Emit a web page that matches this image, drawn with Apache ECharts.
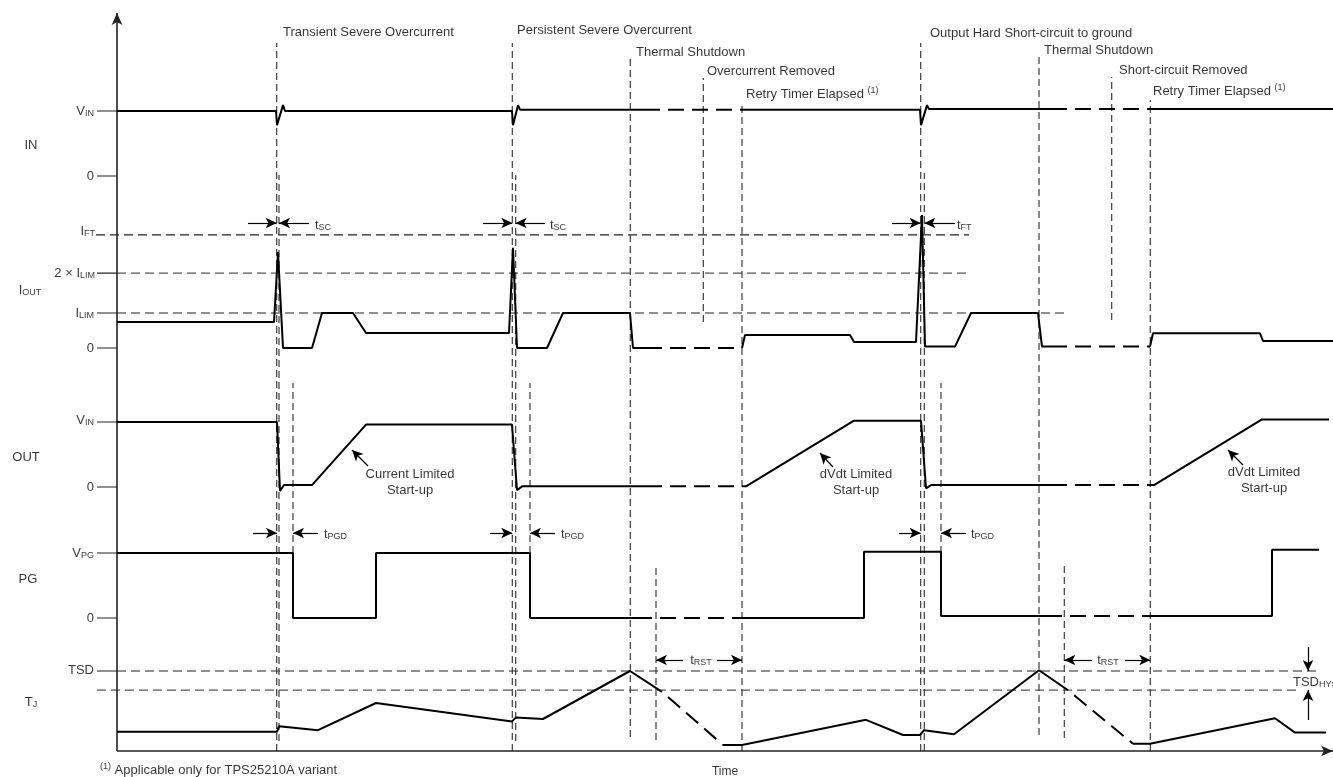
<!DOCTYPE html>
<html>
<head>
<meta charset="utf-8">
<title>TPS25210 fault timing</title>
<style>
  html, body { margin: 0; padding: 0; background: #fff; }
  #chart { width: 1333px; height: 777px; }
</style>
<script src="https://cdn.jsdelivr.net/npm/echarts@6/dist/echarts.min.js"></script>
</head>
<body>
<div id="chart"></div>
<script>
// time in arbitrary units, 0 at the vertical axis
// every waveform is [time, level], level in units of the lane's reference (VIN, ILIM, VPG, TSD)

const inWave = [[0,1],[159,1],[160,0.78],[166,1.09],[168,1],[395,1],[396,0.78],[401,1.09],[403,1.02],
  [803,1.02],[804,0.78],[810,1.09],[812,1.03],[1216,1.03]]
const inIdle = [[543,625],[950,1033]]

const ioutWave = [[0,0.74],[157,0.74],[161,2.74],[166,0],[195,0],[205,1],[236,1],[249,0.43],[392,0.43],
  [396,2.86],[400,0],[430,0],[446,1],[513,1],[516,0],[625,0],[628,0.37],[733,0.37],[737,0.17],[799,0.17],
  [805,3.8],[808,0.04],[838,0.04],[854,1],[921,1],[925,0.04],[1033,0.04],[1036,0.42],[1143,0.42],
  [1146,0.2],[1216,0.2]]
const ioutIdle = [[545,625],[950,1033]]
const ioutRefs = [3.23, 2.14, 1]          // IFT, 2 x ILIM, ILIM
const ioutRefEnd = [852, 852, 951]

const outWave = [[0,1],[160,1],[163,-0.06],[167,0.03],[195,0.03],[249,0.96],[395,0.96],[400,-0.05],
  [405,0.01],[625,0.01],[629,0.01],[737,1.02],[804,1.02],[809,-0.02],[814,0.03],[1037,0.03],
  [1145,1.04],[1212,1.04]]
const outIdle = [[545,625],[950,1033]]

const pgWave = [[0,1],[176,1],[176,0],[259,0],[259,1],[413,1],[413,0],[747,0],[747,1.02],[824,1.02],
  [824,0.03],[1155,0.03],[1155,1.05],[1202,1.05]]
const pgIdle = [[535,625],[945,1033]]

const tjWave = [[0,0.24],[160,0.24],[162,0.31],[201,0.26],[259,0.6],[395,0.37],[399,0.42],[426,0.4],
  [513,1],[545,0.74],[606,0.075],[625,0.075],[749,0.39],[786,0.2],[803,0.2],[807,0.26],[837,0.21],
  [922,1.01],[951,0.76],[1016,0.09],[1033,0.09],[1158,0.41],[1178,0.23],[1209,0.23]]
const tjIdle = [[545,606],[951,1016]]
const tjRefs = [1, 0.76]                   // TSD, TSD - TSDHYS
const tjRefEnd = [1201, 1183]

// event marker times and their vertical reach (chart units, 0 = time axis)
const markerTimes = [159.7, 162, 176, 395.3, 398.7, 413, 513.3, 586.3, 625, 539, 803.7, 807.3, 824, 922, 994.7, 1033.3, 947.3]
const markerTop =   [708, 576, 368, 708, 576, 368, 696, 673, 648, 184, 708, 578, 368, 696, 674, 651, 186]
const markerBot =   [0, 10, 198, 0, 10, 198, 14, 429, 0, 11, 0, 0, 198, 16, 431, 0, 13]

const eventNames = ['Transient Severe Overcurrent', 'Persistent Severe Overcurrent', 'Thermal Shutdown',
  'Overcurrent Removed', 'Retry Timer Elapsed {u|(1)}', 'Output Hard Short-circuit to ground',
  'Thermal Shutdown', 'Short-circuit Removed', 'Retry Timer Elapsed {u|(1)}']

// lane layout: where level 0 sits and how tall one unit is
const lanes = {
  IN:   { zero: 575, unit: 65 },
  IOUT: { zero: 403, unit: 35 },
  OUT:  { zero: 264, unit: 65 },
  PG:   { zero: 133, unit: 65 },
  TJ:   { zero: 0,   unit: 80 }
}
const eventLabelPos = [[166,719],[400,721],[519,699],[590,680],[629,657],[813,718],[927,701],[1002,681],[1036,660]]

const FONT = '"Liberation Sans", Arial, sans-serif'
const INK = '#000'

function toLane(lane, pts) {
  return pts.map(p => [p[0], lane.zero + p[1] * lane.unit])
}

// cut a polyline into solid / dashed pieces at the idle windows
function splitIdle(pts, windows) {
  const cuts = windows.flat()
  const segs = []
  let cur = [pts[0]]
  let ci = 0
  for (let i = 1; i < pts.length; i++) {
    const a = pts[i - 1], b = pts[i]
    while (ci < cuts.length && cuts[ci] > a[0] && cuts[ci] <= b[0]) {
      const t = cuts[ci]
      const y = a[1] + (b[1] - a[1]) * (t - a[0]) / (b[0] - a[0])
      cur.push([t, y])
      segs.push({ dashed: ci % 2 === 1, data: cur })
      cur = [[t, y]]
      ci++
    }
    cur.push(b)
  }
  segs.push({ dashed: ci % 2 === 1, data: cur })
  return segs
}

function line(data, style) {
  return {
    type: 'line', data: data, showSymbol: false, symbol: 'none', silent: true,
    animation: false, z: style.z || 2,
    lineStyle: Object.assign({ color: '#000', width: 2, type: 'solid' }, style)
  }
}

const series = []

// waveforms
const waves = [
  [lanes.IN, inWave, inIdle], [lanes.IOUT, ioutWave, ioutIdle], [lanes.OUT, outWave, outIdle],
  [lanes.PG, pgWave, pgIdle], [lanes.TJ, tjWave, tjIdle]
]
waves.forEach(w => {
  splitIdle(toLane(w[0], w[1]), w[2]).forEach(s => {
    series.push(line(s.data, s.dashed
      ? { type: [16, 8], dashOffset: 16, z: 5 }
      : { z: 5 }))
  })
})

// reference levels
ioutRefs.forEach((lv, i) => {
  const y = lanes.IOUT.zero + lv * lanes.IOUT.unit
  series.push(line([[i === 0 ? -21 : 0, y], [ioutRefEnd[i], y]],
    { type: [9, 5], width: 1.2, color: i === 1 ? '#555' : '#222' }))
})
tjRefs.forEach((lv, i) => {
  const y = lanes.TJ.zero + lv * lanes.TJ.unit
  series.push(line([[i === 0 ? 0 : -20, y], [tjRefEnd[i], y]],
    { type: [9, 5], width: 1.2, color: i === 1 ? '#555' : '#222' }))
})

// y ticks
const tickLevels = [[lanes.IN, 1], [lanes.IN, 0], [lanes.IOUT, 2.14], [lanes.IOUT, 1], [lanes.IOUT, 0],
  [lanes.OUT, 1], [lanes.OUT, 0], [lanes.PG, 1], [lanes.PG, 0], [lanes.TJ, 1]]
tickLevels.forEach(t => {
  const y = t[0].zero + t[1] * t[0].unit
  series.push(line([[-20, y], [0, y]], { width: 1.2, color: '#222' }))
})

// event markers
markerTimes.forEach((t, i) => {
  series.push(line([[t, markerBot[i]], [t, markerTop[i]]], { type: [7, 4], width: 1.2, color: '#3a3a3a', z: 3 }))
})

// dimension and pointer arrows
function arrow(x1, y1, x2, y2) {
  return [{ coord: [x1, y1], symbol: 'none' }, { coord: [x2, y2], symbol: 'arrow' }]
}
const arrows = [
  arrow(131, 528, 159.7, 528), arrow(192, 528, 162, 528),
  arrow(366, 528, 395.3, 528), arrow(428, 528, 398.7, 528),
  arrow(775, 528, 803.7, 528), arrow(838, 528, 807.3, 528),
  arrow(136, 218, 160, 218), arrow(201, 218, 176, 218),
  arrow(373, 218, 395.3, 218), arrow(438, 218, 413, 218),
  arrow(782, 218, 803.7, 218), arrow(849, 218, 824, 218),
  arrow(566, 91, 539, 91), arrow(600, 91, 625, 91),
  arrow(975, 91, 947.3, 91), arrow(1008, 91, 1033.3, 91),
  arrow(1191, 104, 1191, 80), arrow(1191, 31, 1191, 61),
  arrow(251, 285, 235, 301), arrow(716, 284, 703, 298), arrow(1126, 286, 1111, 301)
]
series.push({
  type: 'line', data: [], silent: true, animation: false,
  markLine: {
    silent: true, animation: false, symbolSize: [8, 11],
    label: { show: false },
    lineStyle: { color: '#000', width: 1.2, type: 'solid' },
    data: arrows
  }
})

// the two axes, starting at the origin
series.push({
  type: 'line', data: [], silent: true, animation: false,
  markLine: {
    silent: true, animation: false, symbolSize: [8, 12],
    label: { show: false },
    lineStyle: { color: '#222', width: 1.6, type: 'solid' },
    data: [arrow(0, 0, 0, 738), arrow(0, 0, 1216, 0)]
  }
})

// text
function txt(t, v, str, pos, extra) {
  return { value: [t, v], label: Object.assign({ show: true, position: pos, distance: 0, formatter: str }, extra || {}) }
}
const texts = [
  // lane names
  txt(-86, 606, 'IN', 'inside'), txt(-87, 461, 'I{s|OUT}', 'inside'), txt(-91, 294, 'OUT', 'inside'),
  txt(-89, 172, 'PG', 'inside'), txt(-86, 49, 'T{s|J}', 'inside'),
  // tick labels
  txt(-23, 640, 'V{s|IN}', 'left'), txt(-23, 575, '0', 'left'),
  txt(-22, 520, 'I{s|FT}', 'left'), txt(-22, 478, '2 × I{s|LIM}', 'left'), txt(-23, 438, 'I{s|LIM}', 'left'),
  txt(-23, 403, '0', 'left'), txt(-23, 331, 'V{s|IN}', 'left'), txt(-23, 264, '0', 'left'),
  txt(-23, 198, 'V{s|PG}', 'left'), txt(-23, 133, '0', 'left'), txt(-23, 81, 'TSD', 'left'),
  // dimension labels
  txt(198, 526, 't{s|SC}', 'right'), txt(433, 526, 't{s|SC}', 'right'), txt(840, 526, 't{s|FT}', 'right'),
  txt(207, 217, 't{s|PGD}', 'right'), txt(444, 217, 't{s|PGD}', 'right'), txt(854, 217, 't{s|PGD}', 'right'),
  txt(584, 91, 't{s|RST}', 'inside'), txt(991, 91, 't{s|RST}', 'inside'),
  txt(1176, 69, 'TSD{s|HYS}', 'right'),
  // pointer notes
  txt(293, 269, 'Current Limited\nStart-up', 'inside', { lineHeight: 16, align: 'center' }),
  txt(739, 269, 'dVdt Limited\nStart-up', 'inside', { lineHeight: 16, align: 'center' }),
  txt(1147, 271, 'dVdt Limited\nStart-up', 'inside', { lineHeight: 16, align: 'center' }),
  // axis title and footnote
  txt(608, -21, 'Time', 'inside', { fontSize: 12 }),
  txt(-17, -19, '{u|(1)} Applicable only for TPS25210A variant', 'right')
]
eventNames.forEach((n, i) => texts.push(txt(eventLabelPos[i][0], eventLabelPos[i][1], n, 'right')))

series.push({
  type: 'scatter', symbolSize: 0, silent: true, animation: false, z: 10,
  label: {
    show: true, color: INK, fontFamily: FONT, fontSize: 13, lineHeight: 15,
    rich: {
      s: { fontSize: 9, lineHeight: 9, verticalAlign: 'bottom', fontFamily: FONT, color: INK },
      u: { fontSize: 9, lineHeight: 9, verticalAlign: 'top', fontFamily: FONT, color: INK }
    }
  },
  data: texts
})

const chart = echarts.init(document.getElementById('chart'))
chart.setOption({
  animation: false,
  backgroundColor: '#fff',
  grid: { left: 0, right: 0, top: 13, bottom: 0 },
  xAxis: {
    type: 'value', min: -117, max: 1216,
    axisLine: { show: false }, axisTick: { show: false }, axisLabel: { show: false }, splitLine: { show: false }
  },
  yAxis: {
    type: 'value', min: -26, max: 738,
    axisLine: { show: false }, axisTick: { show: false }, axisLabel: { show: false }, splitLine: { show: false }
  },
  series: series
})
</script>
</body>
</html>
